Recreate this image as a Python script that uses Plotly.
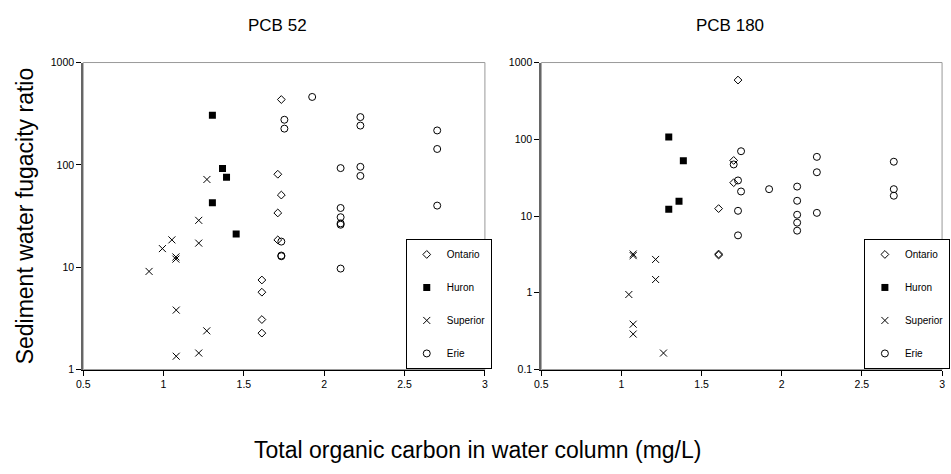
import plotly.graph_objects as go

# ---------------- data ----------------
# PCB 52 (left panel)
ont52_x = [1.612, 1.612, 1.612, 1.612, 1.733, 1.711, 1.733, 1.711, 1.711]
ont52_y = [7.5, 5.7, 3.08, 2.27, 435, 81, 50.7, 33.9, 18.5]
hur52_x = [1.304, 1.367, 1.392, 1.304, 1.452]
hur52_y = [306, 92, 75.7, 42.7, 21.1]
sup52_x = [1.27, 1.219, 1.052, 0.993, 1.219, 1.077, 1.077, 0.91, 1.079, 1.269, 1.219, 1.079]
sup52_y = [72, 28.7, 18.5, 15.2, 17.2, 12.6, 12.0, 9.1, 3.81, 2.39, 1.45, 1.35]
erie52_x = [1.925, 1.752, 1.752, 2.225, 2.225, 2.703, 2.703, 2.703, 2.102, 2.225, 2.225,
            2.102, 2.102, 2.102, 2.102, 1.733, 1.733, 1.733, 2.102]
erie52_y = [461, 276, 226, 293, 242, 217, 143, 40, 93, 95.7, 78,
            37.9, 30.8, 26.8, 26, 17.8, 13.0, 12.8, 9.7]

# PCB 180 (right panel)
ont180_x = [1.606, 1.606, 1.606, 1.727, 1.70, 1.70]
ont180_y = [12.5, 3.2, 3.1, 591, 53, 27.2]
hur180_x = [1.295, 1.386, 1.359, 1.295]
hur180_y = [107, 52.7, 15.6, 12.3]
sup180_x = [1.073, 1.073, 1.213, 1.213, 1.046, 1.073, 1.073, 1.262]
sup180_y = [3.2, 3.05, 2.72, 1.49, 0.95, 0.39, 0.29, 0.164]
erie180_x = [1.70, 1.727, 1.746, 1.746, 1.727, 1.727, 1.921, 2.096, 2.096, 2.096,
             2.096, 2.096, 2.219, 2.219, 2.219, 2.699, 2.699, 2.699]
erie180_y = [47, 29.1, 69.9, 20.9, 11.7, 5.6, 22.4, 24.2, 15.8, 10.4,
             8.2, 6.45, 59, 37.2, 11.0, 51, 22.4, 18.4]

series_names = ["Ontario", "Huron", "Superior", "Erie"]
x_ticks = [0.5, 1, 1.5, 2, 2.5, 3]
x_ticktext = ["0.5", "1", "1.5", "2", "2.5", "3"]
y1_ticks = [1, 10, 100, 1000]
y1_ticktext = ["1", "10", "100", "1000"]
y2_ticks = [0.1, 1, 10, 100, 1000]
y2_ticktext = ["0.1", "1", "10", "100", "1000"]
panel_titles = ["PCB 52", "PCB 180"]
y_title = "Sediment water fugacity ratio"
x_title = "Total organic carbon in water column (mg/L)"

FONT = "Arial, Liberation Sans, sans-serif"

styles = {
    "Ontario": dict(symbol="diamond-open", size=6, color="black", line=dict(width=1, color="black")),
    "Huron": dict(symbol="square", size=7, color="black", line=dict(width=0, color="black")),
    "Superior": dict(symbol="x-thin-open", size=7, color="black", line=dict(width=1, color="black")),
    "Erie": dict(symbol="circle-open", size=7, color="black", line=dict(width=1, color="black")),
}

left = [(ont52_x, ont52_y), (hur52_x, hur52_y), (sup52_x, sup52_y), (erie52_x, erie52_y)]
right = [(ont180_x, ont180_y), (hur180_x, hur180_y), (sup180_x, sup180_y), (erie180_x, erie180_y)]

fig = go.Figure()
for name, (xs, ys) in zip(series_names, left):
    fig.add_trace(go.Scatter(x=xs, y=ys, mode="markers", name=name, marker=styles[name],
                             xaxis="x", yaxis="y", legend="legend", legendgroup="L" + name))
for name, (xs, ys) in zip(series_names, right):
    fig.add_trace(go.Scatter(x=xs, y=ys, mode="markers", name=name, marker=styles[name],
                             xaxis="x2", yaxis="y2", legend="legend2", legendgroup="R" + name))

W, H = 951, 474
yd = [1 - 373 / H, 1 - 58 / H]
xd1 = [77 / W, 483 / W]
xd2 = [540 / W, 945 / W]

axis_common = dict(showgrid=False, zeroline=False, ticks="outside", ticklen=5, tickwidth=1,
                   tickcolor="black", tickfont=dict(family=FONT, size=10.5, color="black"),
                   showline=True)

leg_common = dict(xanchor="left", yanchor="top", bordercolor="black", borderwidth=1,
                  bgcolor="white", font=dict(family=FONT, size=10), traceorder="grouped",
                  tracegroupgap=14, itemwidth=30)

fig.update_layout(
    width=W, height=H, margin=dict(l=0, r=0, t=0, b=0),
    paper_bgcolor="white", plot_bgcolor="white",
    font=dict(family=FONT, color="black"),
    xaxis=dict(domain=xd1, range=[0.5, 3], tickvals=x_ticks, ticktext=x_ticktext,
               linecolor="black", linewidth=1, anchor="y", **axis_common),
    yaxis=dict(domain=yd, type="log", range=[0, 3], tickvals=y1_ticks, ticktext=y1_ticktext,
               linecolor="#666666", linewidth=2, anchor="x", **axis_common),
    xaxis2=dict(domain=xd2, range=[0.5, 3], tickvals=x_ticks, ticktext=x_ticktext,
                linecolor="black", linewidth=1, anchor="y2", **axis_common),
    yaxis2=dict(domain=yd, type="log", range=[-1, 3], tickvals=y2_ticks, ticktext=y2_ticktext,
                linecolor="#666666", linewidth=2, anchor="x2", **axis_common),
    legend=dict(x=403 / W, y=1 - 239 / H, **leg_common),
    legend2=dict(x=866 / W, y=1 - 239 / H, **leg_common),
    showlegend=True,
)

# plot-area frame (thin grey border top/right)
for xr, yr in (("x domain", "y domain"), ("x2 domain", "y2 domain")):
    fig.add_shape(type="rect", xref=xr, yref=yr, x0=0, x1=1, y0=0, y1=1,
                  line=dict(color="#999999", width=1), layer="below")

# panel titles
fig.add_annotation(text=panel_titles[0], x=273 / W, y=1 - 20 / H, xref="paper", yref="paper",
                   showarrow=False, font=dict(family=FONT, size=17), xanchor="center", yanchor="middle")
fig.add_annotation(text=panel_titles[1], x=731 / W, y=1 - 20 / H, xref="paper", yref="paper",
                   showarrow=False, font=dict(family=FONT, size=17), xanchor="center", yanchor="middle")
# axis titles
fig.add_annotation(text=y_title, x=18 / W, y=1 - 215 / H, xref="paper", yref="paper", textangle=-90,
                   showarrow=False, font=dict(family=FONT, size=23), xanchor="center", yanchor="middle")
fig.add_annotation(text=x_title, x=475 / W, y=1 - 456 / H, xref="paper", yref="paper",
                   showarrow=False, font=dict(family=FONT, size=23), xanchor="center", yanchor="middle")

fig.write_html("out.html")
